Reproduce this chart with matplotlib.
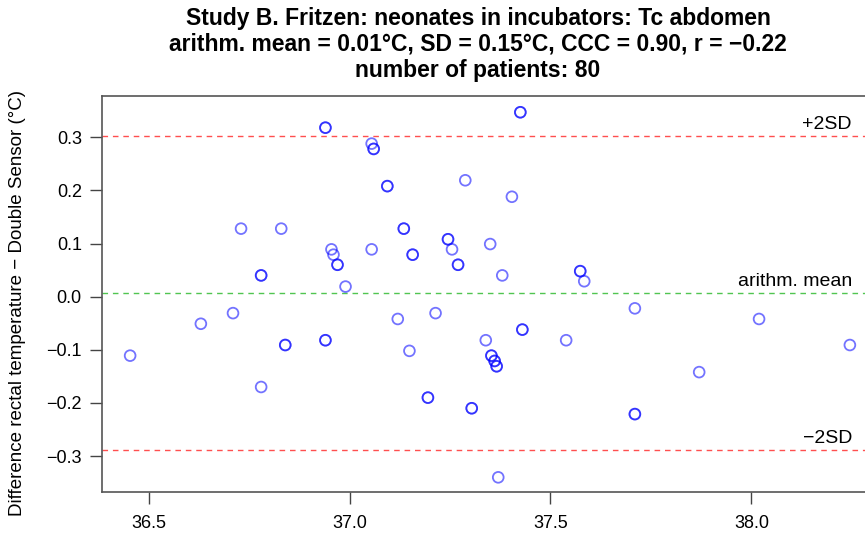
import matplotlib

matplotlib.use("Agg")
import matplotlib.pyplot as plt
import numpy as np

plt.rcParams["font.family"] = ["Liberation Sans", "DejaVu Sans"]

# mean of the two methods (x) and difference (y); n = copies of overlapping points
mean_temp = [
    36.94, 36.73, 36.83, 36.955, 36.96, 36.97, 36.78, 36.99, 36.71, 36.63,
    36.454, 36.84, 36.94, 36.78,
    37.425, 37.055, 37.06, 37.094, 37.288, 37.404, 37.135, 37.245, 37.255, 37.35,
    37.055, 37.157, 37.27, 37.38, 37.12, 37.214, 37.43, 37.339, 37.149, 37.353,
    37.361, 37.366, 37.195, 37.304, 37.37,
    37.574, 37.584, 37.71, 38.019, 37.539, 38.245, 37.87, 37.71,
]
diff_temp = [
    0.318, 0.128, 0.128, 0.089, 0.079, 0.060, 0.040, 0.019, -0.031, -0.051,
    -0.111, -0.091, -0.082, -0.170,
    0.347, 0.288, 0.278, 0.208, 0.219, 0.188, 0.128, 0.108, 0.089, 0.099,
    0.089, 0.079, 0.060, 0.040, -0.042, -0.031, -0.062, -0.082, -0.102, -0.111,
    -0.121, -0.131, -0.190, -0.210, -0.340,
    0.048, 0.029, -0.022, -0.042, -0.082, -0.091, -0.142, -0.221,
]
copies = [
    2, 1, 1, 1, 1, 2, 2, 1, 1, 1,
    1, 2, 2, 1,
    2, 1, 2, 2, 1, 1, 2, 2, 1, 1,
    1, 2, 2, 1, 1, 1, 2, 1, 1, 2,
    2, 2, 2, 2, 1,
    2, 1, 1, 1, 1, 1, 1, 2,
]

mean_diff = 0.0068
sd_diff = 0.148

title_lines = [
    "Study B. Fritzen: neonates in incubators: Tc abdomen",
    "arithm. mean = 0.01°C, SD = 0.15°C, CCC = 0.90, r = \u22120.22",
    "number of patients: 80",
]
ylabel = "Difference rectal temperature \u2212 Double Sensor (°C)"

x = np.repeat(mean_temp, copies)
y = np.repeat(diff_temp, copies)

W, H = 865, 538
fig = plt.figure(figsize=(W / 100, H / 100), dpi=100)
ax = fig.add_axes([102 / W, 46 / H, 774 / W, 396 / H])

ax.scatter(x, y, s=60, facecolors="none", edgecolors=(0.0, 0.0, 1.0, 0.55),
           linewidths=1.3, zorder=3)

upper = mean_diff + 2 * sd_diff
lower = mean_diff - 2 * sd_diff
ax.axhline(upper, color="#ff3030", linestyle=(0, (4, 3.5)), linewidth=1.0, alpha=0.85)
ax.axhline(lower, color="#ff3030", linestyle=(0, (4, 3.5)), linewidth=1.0, alpha=0.85)
ax.axhline(mean_diff, color="#33bb33", linestyle=(0, (4, 3.5)), linewidth=1.0, alpha=0.85)

ax.text(38.25, upper + 0.006, "+2SD", ha="right", va="bottom", fontsize=14)
ax.text(38.25, mean_diff + 0.006, "arithm. mean", ha="right", va="bottom", fontsize=14)
ax.text(38.25, lower + 0.006, "\u22122SD", ha="right", va="bottom", fontsize=14)

ax.set_xlim(36.384, 38.31)
ax.set_ylim(-0.3676, 0.3776)
ax.set_xticks([36.5, 37.0, 37.5, 38.0])
ax.set_xticklabels(["36.5", "37.0", "37.5", "38.0"])
ax.set_yticks([-0.3, -0.2, -0.1, 0.0, 0.1, 0.2, 0.3])
ax.set_yticklabels(["\u22120.3", "\u22120.2", "\u22120.1", "0.0", "0.1", "0.2", "0.3"])
ax.tick_params(direction="out", length=8.5, width=1, labelsize=13, colors="#444444",
               labelcolor="black")
ax.tick_params(axis="y", pad=6)
ax.tick_params(axis="x", pad=8)
for sp in ax.spines.values():
    sp.set_color("#555555")
    sp.set_linewidth(1.2)

fig.text(18 / W, 1 - 303 / H, ylabel, rotation=90, ha="center", va="center", fontsize=13.5)
for i, line in enumerate(title_lines):
    fig.text(478 / W, 1 - (18 + 26.5 * i) / H, line, ha="center", va="center",
             fontsize=16.5, fontweight="bold")

fig.savefig("out.png", dpi=100)
